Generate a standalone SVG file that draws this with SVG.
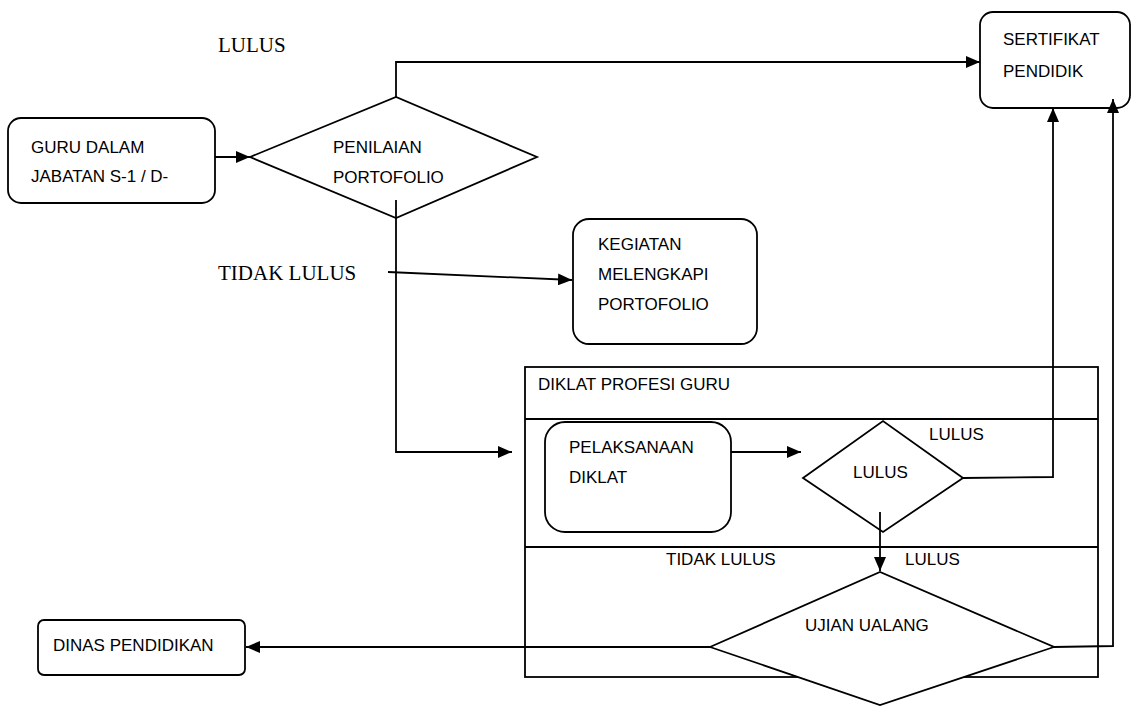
<svg xmlns="http://www.w3.org/2000/svg" width="1133" height="707" viewBox="0 0 1133 707">
<style>
.s{fill:#fff;stroke:#000;stroke-width:1.8}
.n{fill:none;stroke:#000;stroke-width:1.8}
.t{font-family:"Liberation Sans",Arial,sans-serif;font-size:17px;fill:#000}
.tm{font-family:"Liberation Serif","Times New Roman",serif;font-size:21px;fill:#000}
</style>
<defs>
<marker id="a" viewBox="0 0 14 12" refX="14" refY="6" markerWidth="14" markerHeight="12" markerUnits="userSpaceOnUse" orient="auto">
<path d="M0,0 L14,6 L0,12 z" fill="#000"/>
</marker>
</defs>
<rect width="1133" height="707" fill="#fff"/>
<g id="diklat">
<rect class="s" x="525" y="367" width="573" height="310"/>
<line class="n" x1="525" y1="419" x2="1098" y2="419"/>
<line class="n" x1="525" y1="547" x2="1098" y2="547"/>
<text class="t" x="538" y="390">DIKLAT PROFESI GURU</text>
</g>
<g id="guru">
<rect class="s" x="8" y="118" width="207" height="85" rx="13"/>
<text class="t" x="31" y="153">GURU DALAM</text>
<text class="t" x="31" y="182">JABATAN S-1 / D-</text>
</g>
<g id="penilaian">
<polygon class="s" points="250,157 396,97 537,157 396,218"/>
<text class="t" x="333" y="153">PENILAIAN</text>
<text class="t" x="333" y="183">PORTOFOLIO</text>
</g>
<g id="sertifikat">
<rect class="s" x="980" y="12" width="150" height="96" rx="13"/>
<text class="t" x="1003" y="45">SERTIFIKAT</text>
<text class="t" x="1003" y="77">PENDIDIK</text>
</g>
<g id="kegiatan">
<rect class="s" x="573" y="219" width="184" height="125" rx="16"/>
<text class="t" x="598" y="250">KEGIATAN</text>
<text class="t" x="598" y="280">MELENGKAPI</text>
<text class="t" x="598" y="310">PORTOFOLIO</text>
</g>
<g id="pelaksanaan">
<rect class="s" x="545" y="422" width="186" height="110" rx="20"/>
<text class="t" x="569" y="453">PELAKSANAAN</text>
<text class="t" x="569" y="483">DIKLAT</text>
</g>
<g id="lulus">
<polygon class="s" points="803,478 883,421 963,478 883,532"/>
<text class="t" x="853" y="478">LULUS</text>
</g>
<g id="ujian">
<polygon class="s" points="710,647 880,572 1054,647 880,705"/>
<text class="t" x="805" y="631">UJIAN UALANG</text>
</g>
<g id="dinas">
<rect class="s" x="38" y="620" width="207" height="55" rx="6"/>
<text class="t" x="53" y="651">DINAS PENDIDIKAN</text>
</g>
<g id="connectors">
<line class="n" x1="215" y1="157" x2="250" y2="157" marker-end="url(#a)"/>
<polyline class="n" points="396,97 396,62 980,62" marker-end="url(#a)"/>
<polyline class="n" points="396,200 396,452 512,452" marker-end="url(#a)"/>
<line class="n" x1="388" y1="272" x2="572" y2="280" marker-end="url(#a)"/>
<line class="n" x1="731" y1="452" x2="801" y2="452" marker-end="url(#a)"/>
<polyline class="n" points="963,478 1053,477 1053,108" marker-end="url(#a)"/>
<line class="n" x1="880" y1="512" x2="880" y2="571" marker-end="url(#a)"/>
<polyline class="n" points="1054,647 1113,646 1113,99" marker-end="url(#a)"/>
<line class="n" x1="710" y1="647" x2="246" y2="647" marker-end="url(#a)"/>
</g>
<g id="labels">
<text class="tm" x="218" y="52">LULUS</text>
<text class="tm" x="218" y="280">TIDAK LULUS</text>
<text class="t" x="929" y="440">LULUS</text>
<text class="t" x="666" y="565">TIDAK LULUS</text>
<text class="t" x="905" y="565">LULUS</text>
</g>
</svg>
